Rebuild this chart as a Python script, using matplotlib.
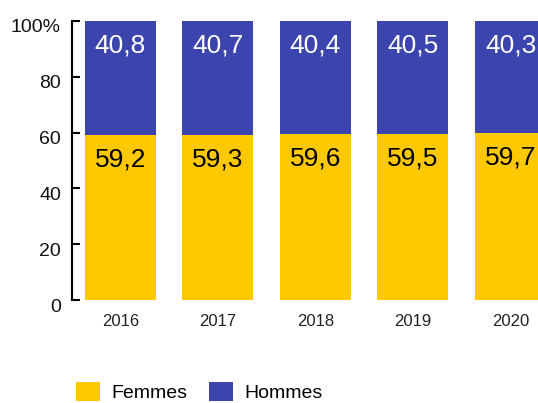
import matplotlib
matplotlib.use("Agg")
import matplotlib.pyplot as plt
import matplotlib.transforms as mtransforms

# Data
years = ["2016", "2017", "2018", "2019", "2020"]
femmes = [59.2, 59.3, 59.6, 59.5, 59.7]
hommes = [40.8, 40.7, 40.4, 40.5, 40.3]
yticks = [0, 20, 40, 60, 80, 100]
ytick_labels = ["0", "20", "40", "60", "80", "100%"]

yellow = "#FFC800"
blue = "#3C45AD"

plt.rcParams["font.family"] = ["Liberation Sans", "DejaVu Sans"]

fig = plt.figure(figsize=(5.38, 4.03), dpi=100)
ax = fig.add_axes([72 / 538, 103 / 403, 1 - 72 / 538, 279 / 403])

x = list(range(len(years)))
ax.bar(x, femmes, width=0.728, color=yellow, label="Femmes")
ax.bar(x, hommes, width=0.728, bottom=femmes, color=blue, label="Hommes")

# value labels at top of each segment
for i in x:
    ax.annotate(f"{hommes[i]:.1f}".replace(".", ","), (i, 100), xytext=(0, -9),
                textcoords="offset points", ha="center", va="top",
                color="white", fontsize=19)
    ax.annotate(f"{femmes[i]:.1f}".replace(".", ","), (i, femmes[i]), xytext=(0, -9),
                textcoords="offset points", ha="center", va="top",
                color="black", fontsize=19)

ax.set_xlim(-0.497, 4.282)
ax.set_ylim(0, 100)
ax.set_xticks(x)
ax.set_xticklabels(years, fontsize=12, color="#222222")
ax.tick_params(axis="x", length=0, pad=10)
ax.set_yticks(yticks)
ax.set_yticklabels(ytick_labels, fontsize=14, color="#111111")
ax.tick_params(axis="y", direction="in", length=6, width=1.5, pad=8)

offset = mtransforms.ScaledTranslation(0, -5 / 100, fig.dpi_scale_trans)
for lab in ax.get_yticklabels():
    lab.set_transform(lab.get_transform() + offset)

for s in ["top", "right", "bottom"]:
    ax.spines[s].set_visible(False)
ax.spines["left"].set_linewidth(1.5)

fig.legend(loc="lower left", bbox_to_anchor=(76 / 538, 1 / 403), ncol=2, frameon=False,
           fontsize=14, handlelength=1.24, handleheight=1.08, handletextpad=0.57,
           columnspacing=1.13, borderpad=0, borderaxespad=0)

fig.savefig("out.png", dpi=100)
